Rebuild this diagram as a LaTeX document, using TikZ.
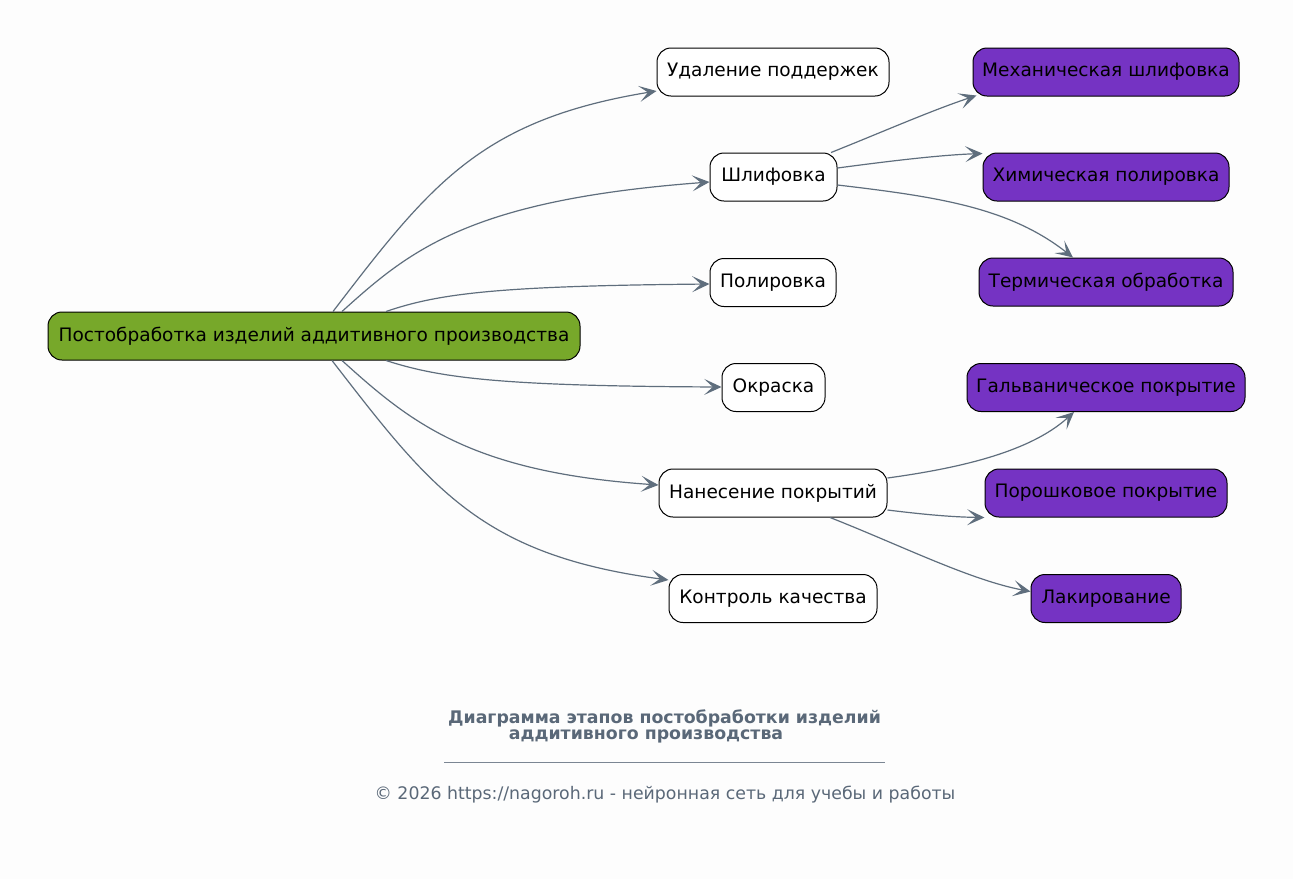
\documentclass[tikz,border=0pt]{standalone}
\usepackage{fontspec}
\setmainfont{DejaVu Sans}
\usetikzlibrary{arrows.meta,calc}
\definecolor{bg}{HTML}{FDFDFD}
\definecolor{edgec}{HTML}{5F6E7D}
\definecolor{greenf}{HTML}{77A82A}
\definecolor{purplef}{HTML}{7533C3}
\definecolor{titlec}{HTML}{5A6878}
\tikzset{
  box/.style={draw=black, line width=0.75pt, rounded corners=10.5pt, minimum height=36pt, inner xsep=0pt, inner ysep=0pt, font=\fontsize{13.9}{16}\selectfont, text=black},
  wbox/.style={box, fill=white},
  gbox/.style={box, fill=greenf},
  pbox/.style={box, fill=purplef},
  conn/.style={draw=edgec, line width=0.9pt, -{Stealth[length=13pt,width=12pt,inset=6.5pt]}},
}
\begin{document}
\begin{tikzpicture}[x=0.75pt,y=-0.75pt]
\fill[bg] (0,0) rectangle (1293,879);
\useasboundingbox (0,0) rectangle (1293,879);

\node[gbox, minimum width=0.75pt*532] (root) at (314,336) {Постобработка изделий аддитивного производства};

\node[wbox, minimum width=0.75pt*232] (udal) at (773,72) {Удаление поддержек};
\node[wbox, minimum width=0.75pt*127] (shlif) at (773.5,177) {Шлифовка};
\node[wbox, minimum width=0.75pt*126] (polir) at (773,282.5) {Полировка};
\node[wbox, minimum width=0.75pt*103] (okr) at (773.5,387.5) {Окраска};
\node[wbox, minimum width=0.75pt*228] (nanes) at (773,493) {Нанесение покрытий};
\node[wbox, minimum width=0.75pt*208] (kontr) at (773,598.5) {Контроль качества};

\node[pbox, minimum width=0.75pt*266] (mech) at (1106,72) {Механическая шлифовка};
\node[pbox, minimum width=0.75pt*246] (chem) at (1106,177) {Химическая полировка};
\node[pbox, minimum width=0.75pt*254] (term) at (1106,282) {Термическая обработка};
\node[pbox, minimum width=0.75pt*278] (galv) at (1106,387.5) {Гальваническое покрытие};
\node[pbox, minimum width=0.75pt*242] (poro) at (1106,493) {Порошковое покрытие};
\node[pbox, minimum width=0.75pt*150] (lak) at (1106,598.5) {Лакирование};

% root edges
\draw[conn] ($(root.north)+(19,0)$) .. controls (430,185) and (480,120) .. ($(udal.west)+(0,19)$);
\draw[conn] ($(root.north)+(28,0)$) .. controls (410,250) and (470,200) .. ($(shlif.west)+(0,5)$);
\draw[conn] ($(root.north)+(72,0)$) .. controls (440,293) and (500,286) .. ($(polir.west)+(0,1.5)$);
\draw[conn] ($(root.south)+(72,0)$) .. controls (440,378) and (500,386) .. ($(okr.west)+(0,-0.5)$);
\draw[conn] ($(root.south)+(28,0)$) .. controls (410,422) and (470,472) .. ($(nanes.west)+(0,-8)$);
\draw[conn] ($(root.south)+(18,0)$) .. controls (430,487) and (480,555) .. ($(kontr.west)+(0,-18.5)$);

% Shlifovka edges
\draw[conn] ($(shlif.north east)+(-6.5,0)$) .. controls (880,133) and (930,111) .. ($(mech.south west)+(4,-1)$);
\draw[conn] ($(shlif.east)+(0,-9)$) .. controls (890,161) and (940,155) .. ($(chem.north west)+(0,1)$);
\draw[conn] ($(shlif.east)+(0,8)$) .. controls (940,197) and (1010,208) .. ($(term.north)+(-33,0)$);

% Nanesenie edges
\draw[conn] ($(nanes.east)+(0,-15)$) .. controls (960,468) and (1030,452) .. ($(galv.south)+(-32,0)$);
\draw[conn] ($(nanes.east)+(0,17)$) .. controls (920,514) and (950,517) .. ($(poro.south west)+(0,0)$);
\draw[conn] ($(nanes.south)+(57,0)$) .. controls (900,545) and (970,580) .. ($(lak.west)+(0,-7)$);

% title and footer
\node[text=titlec, font=\bfseries\fontsize{13}{15}\selectfont] (t1) at (664.5,718) {Диаграмма этапов постобработки изделий};
\node[text=titlec, font=\bfseries\fontsize{13}{15}\selectfont] (t2) at (646,736) {аддитивного производства};
\draw[titlec!80, line width=0.5pt] (444,762) -- (885,762);
\node[text=titlec, font=\fontsize{13}{15}\selectfont] (foot) at (665,795) {© 2026 https://nagoroh.ru - нейронная сеть для учебы и работы};
\end{tikzpicture}
\end{document}
